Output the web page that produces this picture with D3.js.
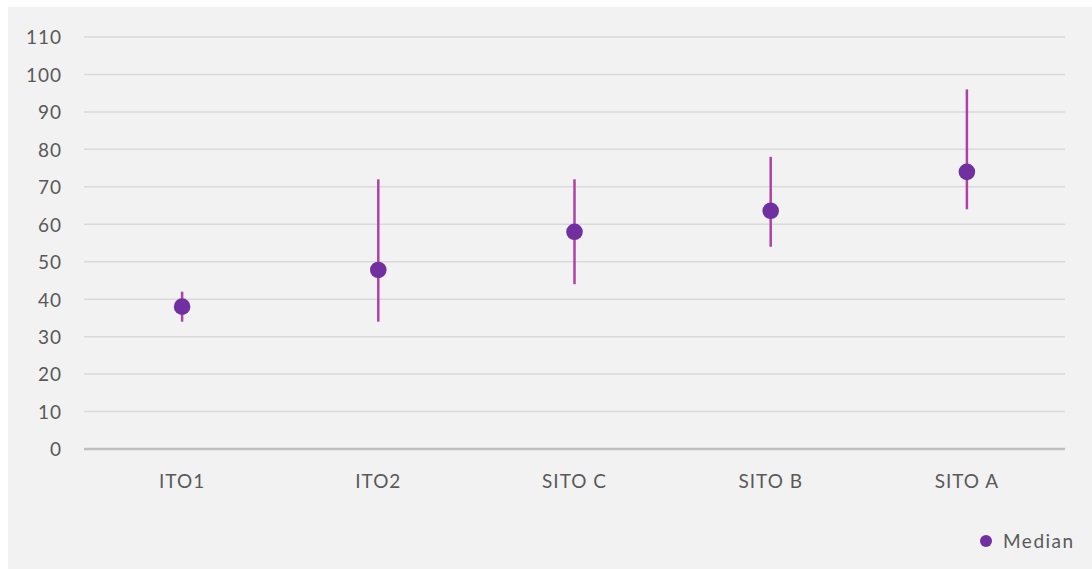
<!DOCTYPE html>
<html><head><meta charset="utf-8">
<script src="https://cdn.jsdelivr.net/npm/d3@7"></script>
<style>html,body{margin:0;padding:0;background:#fff;}svg{display:block;}</style>
</head><body>
<svg id="c" width="1092" height="569"></svg>
<script>
const categories = ["ITO1", "ITO2", "SITO C", "SITO B", "SITO A"];
const medians = [38, 47.8, 58, 63.6, 74];
const lows = [34, 34, 44, 54, 64];
const highs = [42, 72, 72, 78, 96];
const yTicks = [0, 10, 20, 30, 40, 50, 60, 70, 80, 90, 100, 110];
const seriesName = "Median";

const svg = d3.select("#c");
const font = "Lato, 'Open Sans', sans-serif";
svg.append("rect").attr("x", 8).attr("y", 7).attr("width", 1084).attr("height", 562).attr("fill", "#f2f2f2");

const x = d3.scaleBand().domain(categories).range([84, 1065]);
const y = d3.scaleLinear().domain([0, 110]).range([449, 37]);

// gridlines
svg.append("g").selectAll("line").data(yTicks.filter(t => t > 0)).join("line")
  .attr("x1", 84).attr("x2", 1065)
  .attr("y1", d => y(d)).attr("y2", d => y(d))
  .attr("stroke", "#d9d9d9").attr("stroke-width", 1.5);

// y axis labels
const yAxis = d3.axisLeft(y).tickValues(yTicks).tickSize(0).tickPadding(0).tickFormat(d3.format("d"));
const gy = svg.append("g").attr("transform", "translate(62,0)").call(yAxis);
gy.select(".domain").remove();
gy.selectAll("text").attr("font-family", font).attr("font-size", 19).attr("letter-spacing", 1)
  .attr("fill", "#595959").attr("dy", "0.36em");

// x axis baseline
svg.append("line").attr("x1", 84).attr("x2", 1065).attr("y1", y(0)).attr("y2", y(0))
  .attr("stroke", "#bfbfbf").attr("stroke-width", 2.5);

const xAxis = d3.axisBottom(x).tickSize(0).tickPadding(0);
const gx = svg.append("g").attr("transform", "translate(0,481)").call(xAxis);
gx.select(".domain").remove();
gx.selectAll("text").attr("font-family", font).attr("font-size", 19).attr("letter-spacing", 1)
  .attr("fill", "#595959").attr("dy", "0.36em");

const data = categories.map((c, i) => ({c, m: medians[i], lo: lows[i], hi: highs[i]}));

svg.append("g").selectAll("line").data(data).join("line")
  .attr("x1", d => x(d.c) + x.bandwidth() / 2).attr("x2", d => x(d.c) + x.bandwidth() / 2)
  .attr("y1", d => y(d.lo)).attr("y2", d => y(d.hi))
  .attr("stroke", "#b040a8").attr("stroke-width", 2.5);

svg.append("g").selectAll("circle").data(data).join("circle")
  .attr("cx", d => x(d.c) + x.bandwidth() / 2).attr("cy", d => y(d.m))
  .attr("r", 8.3).attr("fill", "#7030a0");

// legend
const lg = svg.append("g").attr("transform", "translate(986,541)");
lg.append("circle").attr("r", 6).attr("fill", "#7030a0");
lg.append("text").attr("x", 17).attr("y", 0).attr("dy", "0.36em").text(seriesName)
  .attr("font-family", font).attr("font-size", 19).attr("letter-spacing", 1.5).attr("fill", "#595959");
</script>
</body></html>
